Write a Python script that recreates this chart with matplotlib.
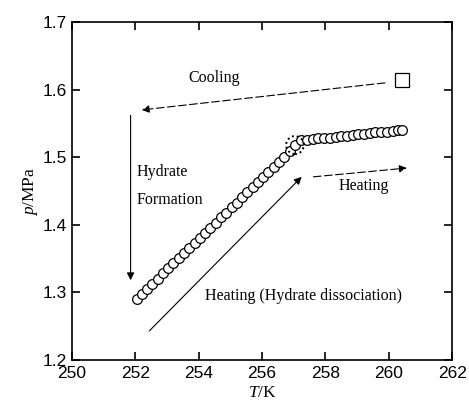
import matplotlib.pyplot as plt
from matplotlib.patches import Ellipse

plt.rcParams['mathtext.fontset'] = 'custom'
plt.rcParams['mathtext.rm'] = 'Liberation Serif'
plt.rcParams['mathtext.it'] = 'Liberation Serif:italic'

# measured points (open circles)
T_data = [252.04, 252.20, 252.37, 252.54, 252.70, 252.87, 253.04, 253.20, 253.37,
          253.54, 253.70, 253.87, 254.04, 254.20, 254.37, 254.54, 254.70, 254.87,
          255.04, 255.20, 255.37, 255.54, 255.70, 255.87, 256.04, 256.20, 256.37,
          256.54, 256.70, 256.87, 257.04,
          257.24, 257.42, 257.60, 257.78, 257.96, 258.14, 258.32, 258.50, 258.68,
          258.86, 259.04, 259.22, 259.40, 259.58, 259.76, 259.94, 260.12, 260.28, 260.41]
p_data = [1.291, 1.298, 1.305, 1.313, 1.320, 1.328, 1.336, 1.343, 1.351,
          1.358, 1.366, 1.373, 1.381, 1.388, 1.396, 1.403, 1.411, 1.418,
          1.426, 1.433, 1.441, 1.448, 1.456, 1.463, 1.471, 1.478, 1.486,
          1.493, 1.501, 1.509, 1.518,
          1.525, 1.526, 1.527, 1.528, 1.528, 1.529, 1.530, 1.531, 1.532,
          1.533, 1.534, 1.535, 1.536, 1.537, 1.538, 1.538, 1.539, 1.540, 1.541]

# starting state (square)
T_start = [260.41]
p_start = [1.614]

# knee point (dotted circle)
T_knee, p_knee = 257.04, 1.518

x_ticks = [250, 252, 254, 256, 258, 260, 262]
y_ticks = [1.2, 1.3, 1.4, 1.5, 1.6, 1.7]

fig = plt.figure(figsize=(4.69, 4.08), dpi=100)
ax = fig.add_axes([0.1535, 0.1176, 0.8105, 0.8284])

ax.plot(T_data, p_data, 'o', mfc='white', mec='black', mew=0.9, ms=7, zorder=3)
ax.plot(T_start, p_start, 's', mfc='white', mec='black', mew=0.9, ms=9.5, zorder=3)
ax.add_patch(Ellipse((T_knee, p_knee), 0.56, 0.0265, fill=False, ls=(0, (1, 1.5)),
                     lw=1.4, ec='black', zorder=4))

arrow_kw = dict(arrowstyle='-|>', color='black', lw=0.8, mutation_scale=11,
                shrinkA=0, shrinkB=0)
# cooling
ax.annotate('', xy=(252.2, 1.570), xytext=(259.88, 1.610),
            arrowprops=dict(arrow_kw, ls=(0, (7, 3))))
# hydrate formation
ax.annotate('', xy=(251.85, 1.318), xytext=(251.85, 1.562), arrowprops=arrow_kw)
# heating (dissociation)
ax.annotate('', xy=(257.25, 1.471), xytext=(252.44, 1.243), arrowprops=arrow_kw)
# heating
ax.annotate('', xy=(260.57, 1.484), xytext=(257.62, 1.471),
            arrowprops=dict(arrow_kw, ls=(0, (7, 3))))

tkw = dict(family='Liberation Serif', fontsize=11.5)
ax.text(254.5, 1.617, 'Cooling', ha='center', va='center', **tkw)
ax.text(252.05, 1.458, 'Hydrate\nFormation', ha='left', va='center', linespacing=2.0, **tkw)
ax.text(257.3, 1.295, 'Heating (Hydrate dissociation)', ha='center', va='center', **tkw)
ax.text(259.22, 1.457, 'Heating', ha='center', va='center', **tkw)

ax.set_xlim(250, 262)
ax.set_ylim(1.2, 1.7)
ax.set_xticks(x_ticks)
ax.set_yticks(y_ticks)
ax.set_xticklabels([str(v) for v in x_ticks], family='Liberation Sans', fontsize=12.5)
ax.set_yticklabels(['%.1f' % v for v in y_ticks], family='Liberation Sans', fontsize=12.5)
ax.tick_params(direction='in', top=True, right=True, length=6, width=1.2)
ax.tick_params(axis='x', pad=4.5)
for s in ax.spines.values():
    s.set_linewidth(1.2)

ax.set_xlabel('$T$/K', family='Liberation Serif', fontsize=12.5, labelpad=3)
ax.set_ylabel('$p$/MPa', family='Liberation Serif', fontsize=12.5, labelpad=2)

fig.savefig('out.png', dpi=100)
